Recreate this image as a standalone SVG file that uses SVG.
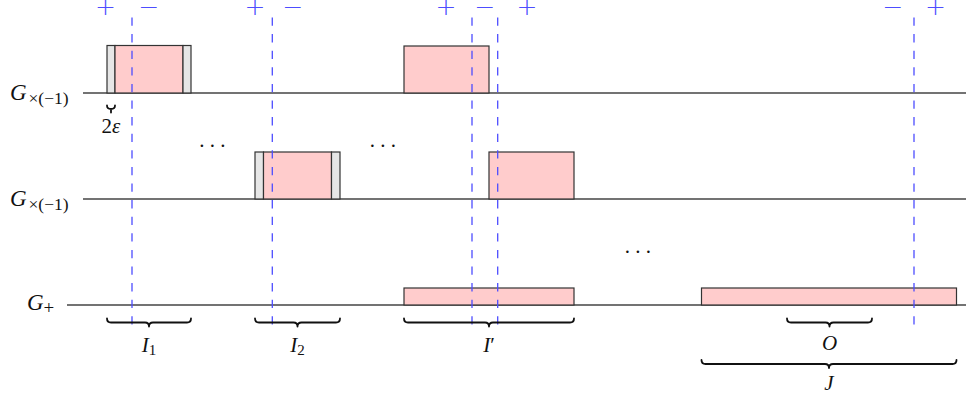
<svg xmlns="http://www.w3.org/2000/svg" width="966" height="404" viewBox="0 0 966 404">
<style>
.axis{stroke:#444;stroke-width:1.4;fill:none}
.pink{fill:#ffcccc;stroke:#333;stroke-width:1.2}
.grey{fill:#e6e6e6;stroke:#333;stroke-width:1.2}
.cut{stroke:#4d4dff;stroke-width:1.3;stroke-dasharray:8.3 8.3;fill:none}
.sign{font-family:"DejaVu Sans",sans-serif;font-size:25px;font-weight:200;fill:#4d4dff;text-anchor:middle}
.m{font-family:"Liberation Serif","DejaVu Serif",serif;font-size:21px;fill:#111}
.g{font-family:"Liberation Serif","DejaVu Serif",serif;font-size:23px;fill:#111}
.i{font-style:italic}
.brace{fill:none;stroke:#111;stroke-width:1.8;stroke-linejoin:round;stroke-linecap:round}
</style>
<rect width="966" height="404" fill="#fff"/>
<g id="axes">
<line class="axis" x1="83" y1="93" x2="966" y2="93"/>
<line class="axis" x1="83" y1="199" x2="966" y2="199"/>
<line class="axis" x1="67" y1="305" x2="966" y2="305"/>
</g>
<g id="row-labels">
<text class="g" x="10" y="99.5"><tspan class="i">G</tspan><tspan x="28.5" dy="4.5" font-size="17.5">×(−1)</tspan></text>
<text class="g" x="10" y="205.5"><tspan class="i">G</tspan><tspan x="28.5" dy="4.5" font-size="17.5">×(−1)</tspan></text>
<text class="g" x="27" y="310"><tspan class="i">G</tspan><tspan x="43.5" dy="4" font-size="19">+</tspan></text>
</g>
<g id="block-I1">
<rect class="grey" x="107" y="45.5" width="8" height="47.5"/>
<rect class="pink" x="115" y="45.5" width="68" height="47.5"/>
<rect class="grey" x="183" y="45.5" width="8" height="47.5"/>
</g>
<g id="block-I2">
<rect class="grey" x="255" y="152" width="8.5" height="47"/>
<rect class="pink" x="263.5" y="152" width="68" height="47"/>
<rect class="grey" x="331.5" y="152" width="8.5" height="47"/>
</g>
<g id="block-Iprime-row1"><rect class="pink" x="404" y="46" width="85" height="47"/></g>
<g id="block-Iprime-row2"><rect class="pink" x="489" y="152" width="85" height="47"/></g>
<g id="block-Iprime-row3"><rect class="pink" x="404" y="288" width="170" height="17"/></g>
<g id="block-J"><rect class="pink" x="701.5" y="288" width="255" height="17"/></g>
<g id="epsilon">
<path class="brace" d="M107,105.5 Q107,109 111,109 Q115,109 115,105.5 M111,109 L111,112.5"/>
<text class="m" x="111" y="133" text-anchor="middle">2<tspan class="i">ε</tspan></text>
</g>
<g id="dots">
<text class="m" x="199.2" y="146.5">. . .</text>
<text class="m" x="369.8" y="147">. . .</text>
<text class="m" x="624.8" y="253">. . .</text>
</g>
<g id="connectors">
<line class="cut" x1="132" y1="17.5" x2="132" y2="327"/>
<line class="cut" x1="272.3" y1="17.5" x2="272.3" y2="327"/>
<line class="cut" x1="472" y1="17.5" x2="472" y2="327"/>
<line class="cut" x1="497.7" y1="17.5" x2="497.7" y2="327"/>
<line class="cut" x1="914" y1="17.5" x2="914" y2="327"/>
</g>
<g id="signs">
<text class="sign" x="105.5" y="15">+</text>
<text class="sign" x="149" y="15">−</text>
<text class="sign" x="255" y="15">+</text>
<text class="sign" x="293" y="15">−</text>
<text class="sign" x="446" y="15">+</text>
<text class="sign" x="485" y="15">−</text>
<text class="sign" x="527" y="15">+</text>
<text class="sign" x="893" y="15">−</text>
<text class="sign" x="935.5" y="15">+</text>
</g>
<g id="braces">
<path class="brace" d="M107,318.5 Q107,322.5 111,322.5 L145,322.5 Q149,322.5 149,326.5 Q149,322.5 153,322.5 L187,322.5 Q191,322.5 191,318.5"/>
<path class="brace" d="M255,318.5 Q255,322.5 259,322.5 L293.5,322.5 Q297.5,322.5 297.5,326.5 Q297.5,322.5 301.5,322.5 L336,322.5 Q340,322.5 340,318.5"/>
<path class="brace" d="M404,318.5 Q404,322.5 408,322.5 L485,322.5 Q489,322.5 489,326.5 Q489,322.5 493,322.5 L570,322.5 Q574,322.5 574,318.5"/>
<path class="brace" d="M787,318.5 Q787,322.5 791,322.5 L825.5,322.5 Q829.5,322.5 829.5,326.5 Q829.5,322.5 833.5,322.5 L868,322.5 Q872,322.5 872,318.5"/>
<path class="brace" d="M701.5,360 Q701.5,364 705.5,364 L825,364 Q829,364 829,368 Q829,364 833,364 L952.5,364 Q956.5,364 956.5,360"/>
</g>
<g id="brace-labels">
<text class="m" x="149" y="351.5" text-anchor="middle"><tspan class="i">I</tspan><tspan font-size="15" dy="3">1</tspan></text>
<text class="m" x="297.5" y="351.5" text-anchor="middle"><tspan class="i">I</tspan><tspan font-size="15" dy="3">2</tspan></text>
<text class="m" x="489" y="351.5" text-anchor="middle"><tspan class="i">I</tspan>′</text>
<text class="m i" x="829.5" y="350" text-anchor="middle">O</text>
<text class="m i" x="829" y="390" text-anchor="middle">J</text>
</g>
</svg>
